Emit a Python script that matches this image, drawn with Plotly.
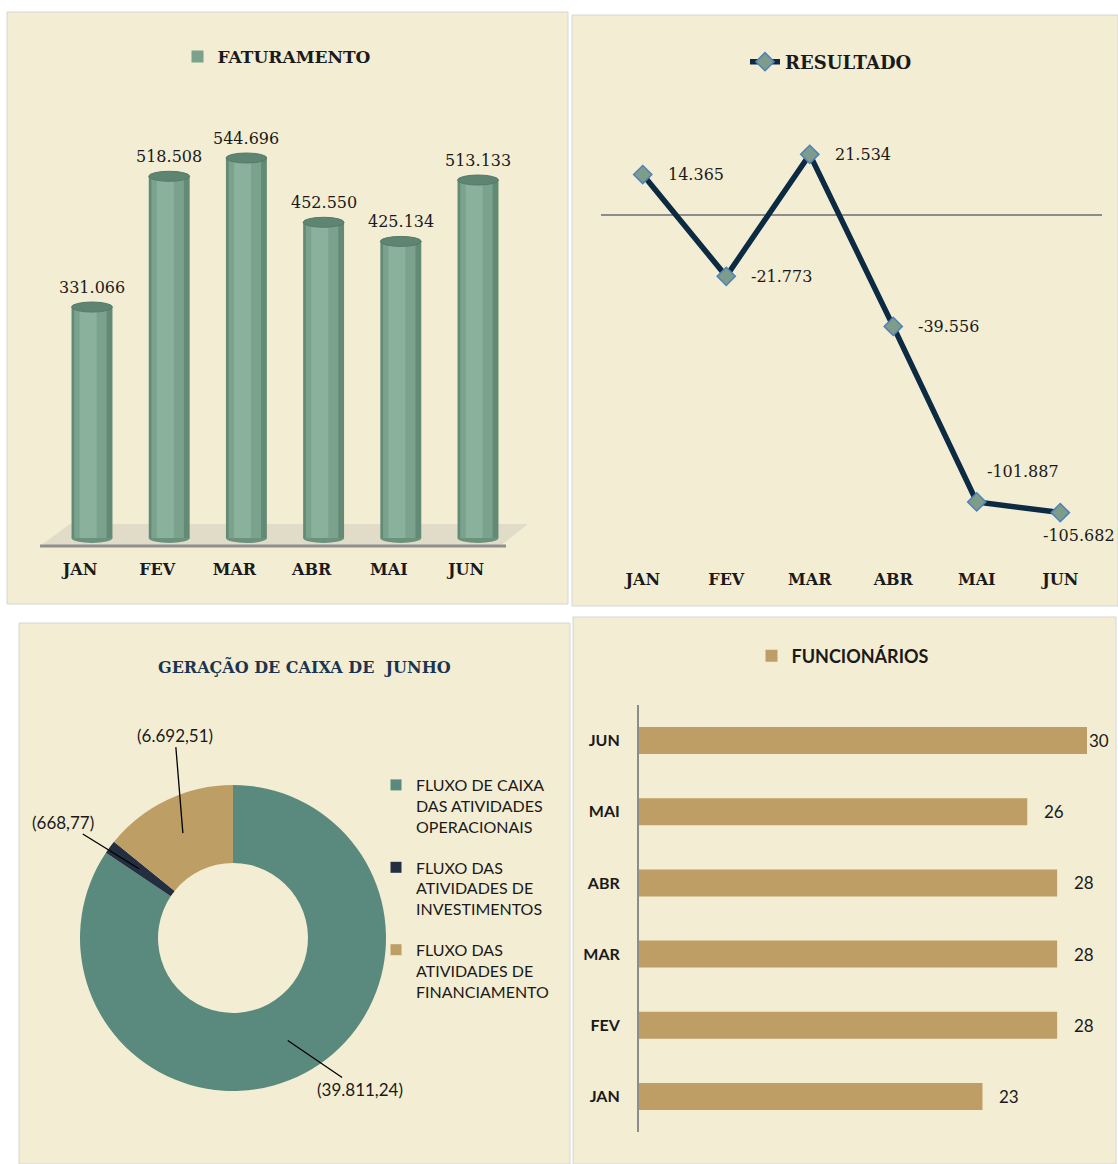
import math
import plotly.graph_objects as go

OFF = 0
W, H = 1118, 1164

# ---------------- data ----------------
months = ["JAN", "FEV", "MAR", "ABR", "MAI", "JUN"]
faturamento = [331066, 518508, 544696, 452550, 425134, 513133]
resultado = [14365, -21773, 21534, -39556, -101887, -105682]
caixa_labels = [
    "FLUXO DE CAIXA<br>DAS ATIVIDADES<br>OPERACIONAIS",
    "FLUXO DAS<br>ATIVIDADES DE<br>INVESTIMENTOS",
    "FLUXO DAS<br>ATIVIDADES DE<br>FINANCIAMENTO",
]
caixa_values = [39811.24, 668.77, 6692.51]
caixa_colors = ["#5A8A7D", "#232F40", "#BD9E64"]
funcionarios = [23, 28, 28, 28, 26, 30]

# ---------------- helpers ----------------
def fx(p):
    return (p - OFF) / W

def fy(p):
    return 1 - (p - OFF) / H

def br_int(v):
    return f"{v:,}".replace(",", ".")

def br_dec(v):
    s = f"{v:,.2f}"
    return s.replace(",", "X").replace(".", ",").replace("X", ".")

SERIF = "DejaVu Serif"
SANS = "Lato"
BG = "#F3EDD3"
TXT = "#1a1a1a"
CAT_RANGE = [-0.5, len(months) - 0.5]

fig = go.Figure()
shapes = []
annotations = []

# panel backgrounds
for (x0, y0, x1, y1) in [(7, 12, 568, 604), (572, 15, 1118, 606), (19, 623, 570, 1164), (573, 617, 1116, 1164)]:
    shapes.append(dict(type="rect", xref="paper", yref="paper", x0=fx(x0), x1=fx(x1), y0=fy(y1), y1=fy(y0),
                       fillcolor=BG, line=dict(color="#D6D6D6", width=1), layer="below"))

# ---------------- panel 1 : FATURAMENTO ----------------
zero1 = 538
s1 = 380 / 544696  # px per unit
y1max = (zero1 - 130) / s1
y1min = -(548 - zero1) / s1

# floor
shapes.append(dict(type="path", xref="paper", yref="paper",
                   path=f"M {fx(40)},{fy(546)} L {fx(500)},{fy(546)} L {fx(528)},{fy(524)} L {fx(70)},{fy(524)} Z",
                   fillcolor="rgba(190,190,180,0.35)", line=dict(width=0), layer="below"))
shapes.append(dict(type="line", xref="paper", yref="paper", x0=fx(40), x1=fx(506), y0=fy(546), y1=fy(546),
                   line=dict(color="#8F8F8F", width=3), layer="below"))

fig.add_trace(go.Bar(x=months, y=faturamento, width=0.53, marker=dict(color="#628A75", line=dict(width=0)),
                     xaxis="x", yaxis="y", showlegend=False, hoverinfo="skip"))
fig.add_trace(go.Bar(x=months, y=faturamento, width=0.42, offset=-0.23, marker=dict(color="#7AA28C", line=dict(width=0)),
                     xaxis="x", yaxis="y", name="FATURAMENTO", showlegend=True, legend="legend"))
fig.add_trace(go.Bar(x=months, y=faturamento, width=0.22, offset=-0.16, marker=dict(color="#8AB19C", line=dict(width=0)),
                     xaxis="x", yaxis="y", showlegend=False, hoverinfo="skip"))

cap = 5 / s1
for i, v in enumerate(faturamento):
    shapes.append(dict(type="circle", xref="x", yref="y", x0=i - 0.265, x1=i + 0.265, y0=-cap, y1=cap,
                       fillcolor="#6A927D", line=dict(width=0), layer="below"))
    shapes.append(dict(type="circle", xref="x", yref="y", x0=i - 0.265, x1=i + 0.265, y0=v - cap, y1=v + cap,
                       fillcolor="#5E8571", line=dict(color="#557A66", width=1), layer="above"))
    annotations.append(dict(x=months[i], y=v, xref="x", yref="y", text=br_int(v), showarrow=False,
                            yshift=20, font=dict(family=SERIF, size=16, color=TXT)))

# ---------------- panel 2 : RESULTADO ----------------
zero2 = 215
s2 = 2.816 / 1000
y2max = (zero2 - 130) / s2
y2min = -(556 - zero2) / s2

fig.add_trace(go.Scatter(x=months, y=resultado, mode="lines+markers", name="RESULTADO", legend="legend2",
                         line=dict(color="#0C2A42", width=5.5),
                         marker=dict(symbol="diamond", size=14, color="#7E9C8A", line=dict(color="#4F81BD", width=1.5)),
                         xaxis="x2", yaxis="y2", cliponaxis=False))
RES_SHIFT = [(23, 0), (23, 0), (23, 0), (23, 0), (8, 30), (-19, -23)]
for i, v in enumerate(resultado):
    dx, dy = RES_SHIFT[i]
    annotations.append(dict(x=months[i], y=v, xref="x2", yref="y2", text=br_int(v), showarrow=False,
                            xanchor="left", yanchor="middle", xshift=dx, yshift=dy,
                            font=dict(family=SERIF, size=16, color=TXT)))

# ---------------- panel 3 : GERAÇÃO DE CAIXA ----------------
cx, cy, R = 233, 938, 153
fig.add_trace(go.Pie(labels=caixa_labels, values=caixa_values, hole=0.49, sort=False, direction="clockwise",
                     rotation=0, textinfo="none",
                     marker=dict(colors=caixa_colors, line=dict(width=0)),
                     domain=dict(x=[fx(cx - R), fx(cx + R)], y=[fy(cy + R), fy(cy - R)]),
                     showlegend=False))
# legend entries for the donut (one group each, so the gap between items can be set)
for i, lab in enumerate(caixa_labels):
    fig.add_trace(go.Scatter(x=[None], y=[None], mode="markers", name=lab, legend="legend3", legendgroup=f"g{i}",
                             marker=dict(symbol="square", size=11, color=caixa_colors[i]),
                             xaxis="x4", yaxis="y4", showlegend=True, hoverinfo="skip"))

annotations.append(dict(x=fx(304), y=fy(666), xref="paper", yref="paper", text="<b>GERAÇÃO DE CAIXA DE  JUNHO</b>",
                        showarrow=False, xanchor="center", yanchor="middle",
                        font=dict(family=SERIF, size=16, color="#1B3550")))
total = sum(caixa_values)
PIE_LABEL_OFFSET = [(72, 49), (-76, -47), (-8, -98)]
cum = 0
for i, v in enumerate(caixa_values):
    frac = v / total
    a = math.radians(360 * (cum + frac / 2))
    cum += frac
    tx = cx + 0.76 * R * math.sin(a)
    ty = cy - 0.76 * R * math.cos(a)
    ax, ay = PIE_LABEL_OFFSET[i]
    annotations.append(dict(x=fx(tx), y=fy(ty), xref="paper", yref="paper", text=f"({br_dec(v)})",
                            showarrow=True, arrowhead=0, arrowwidth=1.3, arrowcolor="#000000", standoff=0,
                            ax=ax, ay=ay, font=dict(family=SANS, size=17, color=TXT)))

# ---------------- panel 4 : FUNCIONÁRIOS ----------------
fig.add_trace(go.Bar(x=funcionarios, y=months, orientation="h", name="FUNCIONÁRIOS", legend="legend4",
                     marker=dict(color="#BE9E64", line=dict(width=0)), xaxis="x4", yaxis="y4"))
fmax = max(funcionarios)
for i, v in enumerate(funcionarios):
    annotations.append(dict(x=v, y=months[i], xref="x4", yref="y4", text=str(v), showarrow=False,
                            xanchor="left", xshift=0 if v == fmax else 15,
                            font=dict(family=SANS, size=17, color=TXT)))

fig.update_layout(
    width=W, height=H, autosize=False,
    margin=dict(l=0, r=0, t=0, b=0),
    paper_bgcolor="#FFFFFF", plot_bgcolor="rgba(0,0,0,0)",
    barmode="overlay", bargap=0.62,
    shapes=shapes, annotations=annotations,
    xaxis=dict(domain=[fx(53.4), fx(516.6)], type="category", range=CAT_RANGE, showgrid=False, zeroline=False,
               showline=False, ticks="outside", ticklen=7, tickcolor="rgba(0,0,0,0)", ticklabelshift=-12,
               tickfont=dict(family=SERIF, size=16, color=TXT, weight="bold"), anchor="y"),
    yaxis=dict(domain=[fy(548), fy(130)], range=[y1min, y1max], visible=False, anchor="x"),
    xaxis2=dict(domain=[fx(601), fx(1102)], type="category", range=CAT_RANGE, showgrid=False, zeroline=False,
                showline=False, ticks="outside", ticklen=9, tickcolor="rgba(0,0,0,0)",
                tickfont=dict(family=SERIF, size=16, color=TXT, weight="bold"), anchor="y2"),
    yaxis2=dict(domain=[fy(556), fy(130)], range=[y2min, y2max], showgrid=False, showticklabels=False,
                zeroline=True, zerolinecolor="#8C8C8C", zerolinewidth=2, showline=False, anchor="x2"),
    xaxis4=dict(domain=[fx(639), fx(1087)], range=[0, fmax], visible=False, anchor="y4"),
    yaxis4=dict(domain=[fy(1132), fy(705)], type="category", categoryorder="array", categoryarray=months,
                range=CAT_RANGE, showgrid=False, zeroline=False, showline=True, linecolor="#8C8C8C", linewidth=2,
                ticks="outside", ticklen=14, tickcolor="rgba(0,0,0,0)",
                tickfont=dict(family=SANS, size=16, color=TXT, weight="bold"), anchor="x4"),
    legend=dict(x=fx(277), y=fy(57), xanchor="center", yanchor="middle", orientation="h",
                bgcolor="rgba(0,0,0,0)", font=dict(family=SERIF, size=17, color=TXT, weight="bold")),
    legend2=dict(x=fx(831), y=fy(62), xanchor="center", yanchor="middle", orientation="h",
                 bgcolor="rgba(0,0,0,0)", font=dict(family=SERIF, size=18, color=TXT, weight="bold")),
    legend3=dict(x=fx(376), y=fy(768), xanchor="left", yanchor="top", orientation="v", valign="top",
                 traceorder="grouped", tracegroupgap=17,
                 bgcolor="rgba(0,0,0,0)", font=dict(family=SANS, size=16, color=TXT)),
    legend4=dict(x=fx(843), y=fy(656), xanchor="center", yanchor="middle", orientation="h",
                 bgcolor="rgba(0,0,0,0)", font=dict(family=SANS, size=18, color=TXT, weight="bold")),
)

# remove the default page margin so the 1118x1164 figure fills the window exactly
fig.write_html("out.html", config=dict(displayModeBar=False),
               post_script="document.body.style.margin='0px';document.body.style.overflow='hidden';")
